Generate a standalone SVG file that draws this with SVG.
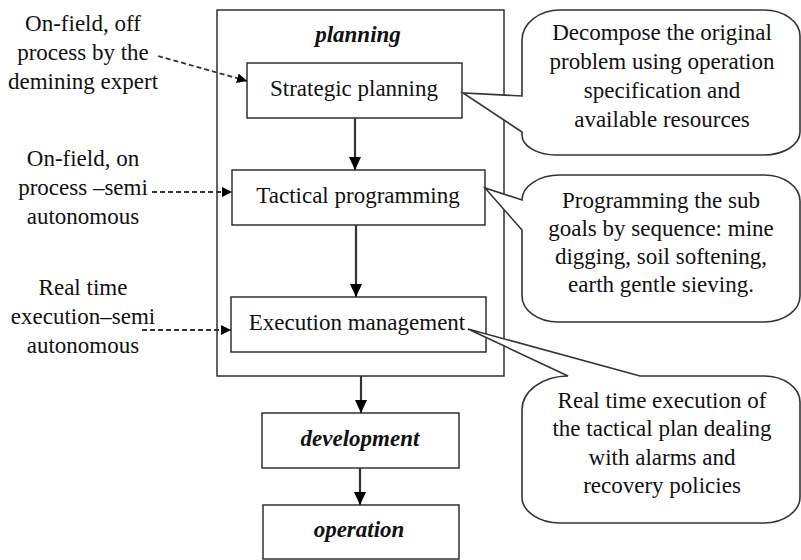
<svg xmlns="http://www.w3.org/2000/svg" width="801" height="560" viewBox="0 0 801 560">
<style>
.t{font-family:"Liberation Serif","Times New Roman",serif;font-size:23px;fill:#111;text-anchor:middle}
.b{font-weight:bold;font-style:italic}
.box{fill:#fff;stroke:#222;stroke-width:1.4}
.call{fill:#fff;stroke:#333;stroke-width:1.6}
.sol{stroke:#333;stroke-width:2.2;fill:none}
.dash{stroke:#333;stroke-width:1.8;fill:none;stroke-dasharray:5 3}
</style>
<defs>
<marker id="ah" markerUnits="userSpaceOnUse" markerWidth="13" markerHeight="13" refX="13" refY="6" orient="auto"><path d="M0,0 L13,6 L0,12 z" fill="#000"/></marker>
<marker id="ad" markerUnits="userSpaceOnUse" markerWidth="10" markerHeight="10" refX="10" refY="5" orient="auto"><path d="M0,0 L10,5 L0,10 z" fill="#000"/></marker>
</defs>
<g id="planning">
<rect class="box" x="217" y="10" width="287" height="366"/>
<text class="t b" x="358" y="42">planning</text>
</g>
<g id="strategic">
<rect class="box" x="247" y="63" width="215" height="55"/>
<text class="t" x="354" y="96">Strategic planning</text>
</g>
<g id="tactical">
<rect class="box" x="232" y="170" width="253" height="55"/>
<text class="t" x="358" y="203">Tactical programming</text>
</g>
<g id="execution">
<rect class="box" x="231" y="297" width="255" height="55"/>
<text class="t" x="357" y="330">Execution management</text>
</g>
<g id="development">
<rect class="box" x="262" y="413" width="197" height="55"/>
<text class="t b" x="360" y="446">development</text>
</g>
<g id="operation">
<rect class="box" x="263" y="505" width="196" height="54"/>
<text class="t b" x="359" y="537">operation</text>
</g>
<g id="label-offline">
<text class="t" x="83" y="31">On-field, off</text>
<text class="t" x="83" y="60">process by the</text>
<text class="t" x="83" y="89">demining expert</text>
</g>
<g id="label-onprocess">
<text class="t" x="83" y="166">On-field, on</text>
<text class="t" x="83" y="195">process –semi</text>
<text class="t" x="83" y="224">autonomous</text>
</g>
<g id="label-realtime">
<text class="t" x="83" y="295">Real time</text>
<text class="t" x="83" y="324">execution–semi</text>
<text class="t" x="83" y="353">autonomous</text>
</g>
<g id="callout-decompose">
<path class="call" d="M560 10 H764 A36 26 0 0 1 800 36 V132 A36 23 0 0 1 764 155 H556 A34 20 0 0 1 522 135 V132 L463 93 L522 96 V40 A38 30 0 0 1 560 10 Z"/>
<text class="t" x="662" y="40">Decompose the original</text>
<text class="t" x="662" y="69">problem using operation</text>
<text class="t" x="662" y="98">specification and</text>
<text class="t" x="662" y="127">available resources</text>
</g>
<g id="callout-programming">
<path class="call" d="M560 175 H764 A36 26 0 0 1 800 201 V296 A36 26 0 0 1 764 322 H558 A36 26 0 0 1 522 296 V230 L485 188 L522 200 A38 25 0 0 1 560 175 Z"/>
<text class="t" x="661" y="208">Programming the sub</text>
<text class="t" x="661" y="236">goals by sequence: mine</text>
<text class="t" x="661" y="264">digging, soil softening,</text>
<text class="t" x="661" y="292">earth gentle sieving.</text>
</g>
<g id="callout-realtime">
<path class="call" d="M640 376 H764 A36 26 0 0 1 800 402 V497 A36 26 0 0 1 764 523 H560 A38 26 0 0 1 522 497 V410 A46 34 0 0 1 568 376 L468 329 Z"/>
<text class="t" x="662" y="408">Real time execution of</text>
<text class="t" x="662" y="436">the tactical plan dealing</text>
<text class="t" x="662" y="465">with alarms and</text>
<text class="t" x="662" y="493">recovery policies</text>
</g>
<g id="connectors">
<line class="sol" x1="355" y1="118" x2="355" y2="170" marker-end="url(#ah)"/>
<line class="sol" x1="356" y1="225" x2="356" y2="297" marker-end="url(#ah)"/>
<line class="sol" x1="361" y1="376" x2="361" y2="413" marker-end="url(#ah)"/>
<line class="sol" x1="360" y1="468" x2="360" y2="505" marker-end="url(#ah)"/>
<line class="dash" x1="158" y1="56" x2="247" y2="81" marker-end="url(#ad)"/>
<line class="dash" x1="152" y1="192" x2="232" y2="192" marker-end="url(#ad)"/>
<line class="dash" x1="142" y1="330" x2="231" y2="330" marker-end="url(#ad)"/>
</g>
</svg>
